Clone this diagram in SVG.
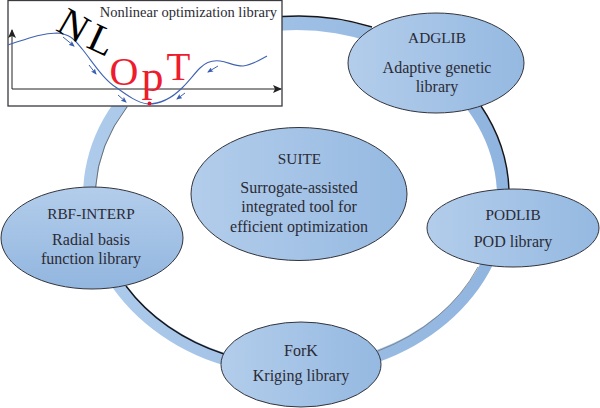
<svg xmlns="http://www.w3.org/2000/svg" width="600" height="408" viewBox="0 0 600 408">
<defs>
<linearGradient id="h"><stop offset="0" stop-color="#b3cdeb"/><stop offset="1" stop-color="#95b9e1"/></linearGradient>
<linearGradient id="v" x1="0" y1="0" x2="0" y2="1"><stop offset="0" stop-color="#b3cdeb"/><stop offset="1" stop-color="#92b6df"/></linearGradient>
<linearGradient id="band"><stop offset="0" stop-color="#aecbeb"/><stop offset="1" stop-color="#8fb4df"/></linearGradient>
<marker id="a" markerWidth="9" markerHeight="8" refX="8" refY="4" orient="auto" markerUnits="userSpaceOnUse"><path d="M0 0L9 4L0 8L2 4Z" fill="#222"/></marker>
<marker id="b" markerWidth="6" markerHeight="5" refX="5" refY="2.5" orient="auto" markerUnits="userSpaceOnUse"><path d="M0 0L6 2.5L0 5L1.2 2.5Z" fill="#3a5fb0"/></marker>
</defs>
<style>
text{font-family:"Liberation Serif","Times New Roman",serif;fill:#2b2b35;font-size:16px;text-anchor:middle}
.c{font-size:15.300px}
.n{stroke:#33343c;stroke-width:1}
.e{fill:none;stroke:#15151a;stroke-width:1.4}
.s{fill:none;stroke:#3f62b3;stroke-width:1.1}
.t{fill:none;stroke:#3f62b3;stroke-width:1;marker-end:url(#b)}
</style>
<g id="connectors">
<path fill="url(#band)" fill-rule="evenodd" d="M83 196A213 180 0 1 1 509 196A213 180 0 1 1 83 196ZM96 197A200.500 167 0 1 0 497 197A200.500 167 0 1 0 96 197Z"/>
<path class="e" d="M282 16.500A213 180 0 0 1 372 27"/>
<path class="e" d="M481 106A213 180 0 0 1 509 190"/>
<path class="e" d="M126 286A200.500 167 0 0 0 224 354"/>
<path fill="none" stroke="#555" stroke-width="0.8" d="M95.500 188A200.500 167 0 0 1 127 107"/>
<path fill="none" stroke="#777" stroke-width="0.8" d="M378 351A200.500 167 0 0 0 478 267"/>
</g>
<g id="suite"><ellipse class="n" cx="299" cy="194" rx="108" ry="66.500" fill="url(#h)"/><text class="c" x="299.500" y="164">SUITE</text><text x="299" y="193">Surrogate-assisted</text><text x="299" y="212">integrated tool for</text><text x="299" y="232">efficient optimization</text></g>
<g id="adglib"><ellipse class="n" cx="436" cy="63" rx="88" ry="50" fill="url(#h)"/><text class="c" x="437" y="43">ADGLIB</text><text x="437" y="73">Adaptive genetic</text><text x="437" y="92">library</text></g>
<g id="podlib"><ellipse class="n" cx="513" cy="228" rx="86" ry="39" fill="url(#h)"/><text class="c" x="513" y="220">PODLIB</text><text x="513" y="247">POD library</text></g>
<g id="fork"><ellipse class="n" cx="301" cy="364.500" rx="80" ry="42.500" fill="url(#h)"/><text x="301" y="356">ForK</text><text x="301" y="381">Kriging library</text></g>
<g id="rbf"><ellipse class="n" cx="92" cy="238" rx="91" ry="51" fill="url(#v)"/><text class="c" x="91" y="219">RBF-INTERP</text><text x="91" y="245">Radial basis</text><text x="91" y="264">function library</text></g>
<g id="nlopt">
<rect x="8" y="0.500" width="274" height="105.500" fill="#fff" stroke="#3a3a3f" stroke-width="1.3"/>
<path fill="none" stroke="#222" stroke-width="1" marker-end="url(#a)" d="M12 89V30"/>
<path fill="none" stroke="#222" stroke-width="1" marker-end="url(#a)" d="M12 89H281"/>
<path class="s" d="M8 45C24 40 40 33 57 33C72 34 76 42 83 50C94 64 104 80 117 88C128 96 138 103 148 104C160 104 172 98 182 88C190 80 194 74 200 68C206 62 212 60 220 61C228 62 234 66 243 66C252 65 260 60 267 56"/>
<path class="t" d="M63 37L74 46"/><path class="t" d="M89 65L96 74"/><path class="t" d="M118 95L126 102"/><path class="t" d="M185 93L177 99"/><path class="t" d="M218 66L208 72"/>
<circle cx="149.500" cy="103.500" r="2" fill="#e8112d"/>
<text x="277" y="17" style="font-size:14.500px;text-anchor:end">Nonlinear optimization library</text>
<text transform="translate(67 37) rotate(30)" style="font-size:40px;fill:#000">N</text>
<text transform="translate(96 52) rotate(25)" style="font-size:40px;fill:#000">L</text>
<text x="124" y="85" style="font-size:40px;fill:#ee1c2e">O</text>
<text x="152.500" y="90.500" style="font-size:44px;fill:#ee1c2e">p</text>
<text x="178.500" y="80" style="font-size:39px;fill:#ee1c2e">T</text>
</g>
</svg>
